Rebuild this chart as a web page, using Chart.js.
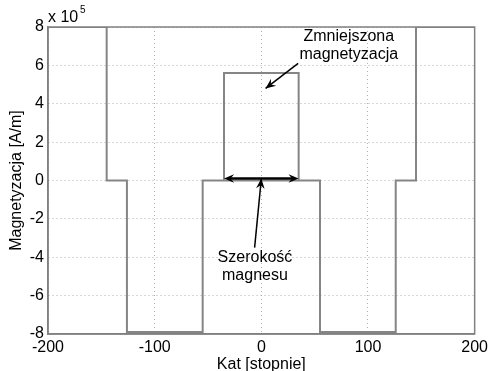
<!DOCTYPE html>
<html>
<head>
<meta charset="utf-8">
<script src="https://cdn.jsdelivr.net/npm/chart.js@4"></script>
<style>
  html, body { margin: 0; padding: 0; background: #fff; }
  #wrap { width: 492px; height: 371px; }
</style>
</head>
<body>
<div id="wrap"><canvas id="magChart" width="492" height="371"></canvas></div>
<script>
// angle [deg] and magnetization [x 10^5 A/m]
const katFull = [-200, -145, -145, -126, -126, -55, -55, 55, 55, 126, 126, 145, 145, 200];
const magFull = [8, 8, 0, 0, -7.9, -7.9, 0, 0, -7.9, -7.9, 0, 0, 8, 8];
const katReduced = [-35, -35, 35, 35];
const magReduced = [0, 5.6, 5.6, 0];
const xTicks = [-200, -100, 0, 100, 200];
const yTicks = [-8, -6, -4, -2, 0, 2, 4, 6, 8];

// annotation anchors, in data units
const widthArrow = { from: [-35, 0.1], to: [35, 0.1] };
const widthPointer = { from: [-6.3, -3.5], to: [0, 0.1] };
const reducedPointer = { from: [34.5, 6.1], to: [4, 4.8] };
const labelReduced = { at: [82, 7.5], lines: ['Zmniejszona', 'magnetyzacja'] };
const labelWidth = { at: [-6, -4.0], lines: ['Szerokość', 'magnesu'] };

const toPoints = (xs, ys) => xs.map((x, i) => ({ x: x, y: ys[i] }));
const FONT = 'Liberation Sans, Arial, sans-serif';

function arrowHead(ctx, x0, y0, x1, y1) {
    const a = Math.atan2(y1 - y0, x1 - x0);
    const len = 11, w = 0.4;
    ctx.beginPath();
    ctx.moveTo(x1, y1);
    ctx.lineTo(x1 - len * Math.cos(a - w), y1 - len * Math.sin(a - w));
    ctx.lineTo(x1 - len * 0.6 * Math.cos(a), y1 - len * 0.6 * Math.sin(a));
    ctx.lineTo(x1 - len * Math.cos(a + w), y1 - len * Math.sin(a + w));
    ctx.closePath();
    ctx.fill();
}

const annotations = {
    id: 'annotations',
    afterDraw(chart) {
        const ctx = chart.ctx;
        const xs = chart.scales.x, ys = chart.scales.y;
        const px = p => [xs.getPixelForValue(p[0]), ys.getPixelForValue(p[1])];
        const area = chart.chartArea;

        ctx.save();
        // frame
        ctx.strokeStyle = '#808080';
        ctx.lineWidth = 1.5;
        ctx.strokeRect(area.left, area.top, area.right - area.left, area.bottom - area.top);

        // exponent label
        ctx.fillStyle = '#000';
        ctx.font = '16px ' + FONT;
        ctx.textAlign = 'left';
        ctx.textBaseline = 'alphabetic';
        ctx.fillText('x 10', area.left, area.top - 5);
        ctx.font = '10px ' + FONT;
        ctx.fillText('5', area.left + 32, area.top - 14);

        // arrows
        ctx.strokeStyle = '#000';
        ctx.fillStyle = '#000';
        ctx.lineWidth = 2.5;
        let a = px(widthArrow.from), b = px(widthArrow.to);
        ctx.beginPath(); ctx.moveTo(a[0] + 6, a[1]); ctx.lineTo(b[0] - 6, b[1]); ctx.stroke();
        arrowHead(ctx, b[0], b[1], a[0], a[1]);
        arrowHead(ctx, a[0], a[1], b[0], b[1]);

        ctx.lineWidth = 1.5;
        [widthPointer, reducedPointer].forEach(p => {
            const s = px(p.from), e = px(p.to);
            ctx.beginPath(); ctx.moveTo(s[0], s[1]); ctx.lineTo(e[0], e[1]); ctx.stroke();
            arrowHead(ctx, s[0], s[1], e[0], e[1]);
        });

        // labels
        ctx.fillStyle = '#000';
        ctx.font = '16px ' + FONT;
        ctx.textAlign = 'center';
        ctx.textBaseline = 'middle';
        [labelReduced, labelWidth].forEach(l => {
            const c = px(l.at);
            l.lines.forEach((t, i) => ctx.fillText(t, c[0], c[1] + i * 18));
        });
        ctx.restore();
    }
};

new Chart(document.getElementById('magChart').getContext('2d'), {
    type: 'scatter',
    data: {
        datasets: [{
            data: toPoints(katFull, magFull),
            showLine: true,
            borderColor: '#858585',
            borderWidth: 2,
            pointRadius: 0,
            tension: 0
        }, {
            data: toPoints(katReduced, magReduced),
            showLine: true,
            borderColor: '#858585',
            borderWidth: 2,
            pointRadius: 0,
            tension: 0
        }]
    },
    options: {
        responsive: false,
        animation: false,
        layout: { padding: { top: 27, right: 13, left: 0, bottom: 0 } },
        plugins: { legend: { display: false }, tooltip: { enabled: false } },
        scales: {
            x: {
                type: 'linear',
                min: -200, max: 200,
                afterBuildTicks: s => { s.ticks = xTicks.map(v => ({ value: v })); },
                afterFit: s => { s.height = 37; },
                grid: { color: '#b0b0b0', drawTicks: false, lineWidth: 1 },
                border: { display: true, color: '#808080', width: 1.5, dash: [1, 3] },
                ticks: { color: '#000', font: { family: FONT, size: 16 }, padding: 4, maxRotation: 0 },
                title: { display: true, text: 'Kat [stopnie]', color: '#000', font: { family: FONT, size: 16, lineHeight: 0.85 }, padding: { top: 0, bottom: 0 } }
            },
            y: {
                type: 'linear',
                min: -8, max: 8,
                afterBuildTicks: s => { s.ticks = yTicks.map(v => ({ value: v })); },
                afterFit: s => { s.width = 48; },
                grid: { color: '#b0b0b0', drawTicks: false, lineWidth: 1 },
                border: { display: true, color: '#808080', width: 1.5, dash: [1, 3] },
                ticks: { color: '#000', font: { family: FONT, size: 16 }, padding: 4 },
                title: { display: true, text: 'Magnetyzacja [A/m]', color: '#000', font: { family: FONT, size: 16 }, padding: { top: 7, bottom: 0 } }
            }
        }
    },
    plugins: [annotations]
});
</script>
</body>
</html>
